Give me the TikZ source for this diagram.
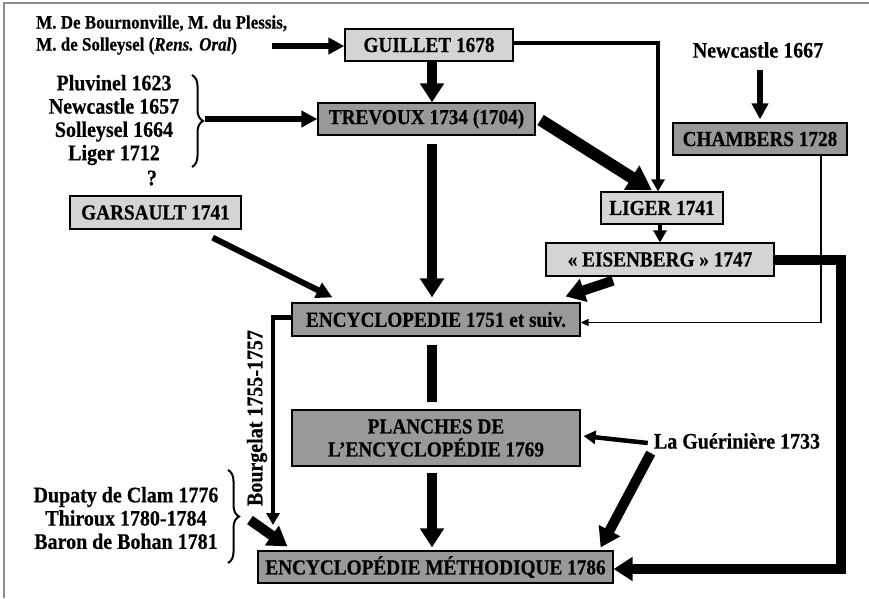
\documentclass[tikz,border=0pt]{standalone}
\usepackage{fontspec}
\setmainfont{Liberation Serif}[FakeStretch=0.9, BoldFeatures={FakeBold=0.5}, BoldItalicFeatures={FakeBold=0.5}]
\usepackage{tikz}
\usetikzlibrary{positioning, arrows.meta, calc, decorations.pathreplacing}

\definecolor{boxlight}{gray}{0.83}
\definecolor{boxdark}{gray}{0.60}
\definecolor{framegray}{gray}{0.55}

\tikzset{
	box/.style={draw=black, line width=1.2pt, inner sep=0pt, align=center, font=\bfseries\fontsize{21.4}{23}\selectfont},
	light box/.style={box, fill=boxlight},
	dark box/.style={box, fill=boxdark},
	free text/.style={inner sep=0pt, align=center, font=\bfseries\fontsize{22.2}{23.3}\selectfont},
	curly/.style={decorate, decoration={brace, amplitude=11pt}, line width=2pt},
	fat arrow/.style={line width=10pt, -{Triangle[length=19pt, width=23pt]}},
	fatter arrow/.style={line width=12pt, -{Triangle[length=24pt, width=27pt]}},
	mid arrow/.style={line width=6pt, -{Triangle[length=16pt, width=16pt]}},
	slim arrow/.style={line width=3.5pt, -{Triangle[length=12pt, width=13pt]}},
	hair arrow/.style={line width=1.5pt, -{Triangle[length=8pt, width=7pt]}}
}

\begin{document}
\begin{tikzpicture}[x=1pt, y=-1pt]
					\useasboundingbox (0,0) rectangle (869,598);
					\draw [draw=framegray, line width=1.5pt] (4,598) -- (4,3) -- (869,3);

					% the dictionaries
					\node[light box, minimum width=168pt, minimum height=32pt] (guillet) at (429,45) {GUILLET 1678};
					\node[dark box, minimum width=217pt, minimum height=32pt] (trevoux) at (426.5,119) {TREVOUX 1734 (1704)};
					\node[dark box, minimum width=174pt, minimum height=32pt] (chambers) at (760,139) {CHAMBERS 1728};
					\node[light box, minimum width=171pt, minimum height=33pt] (garsault) at (155.5,212.5) {GARSAULT 1741};
					\node[light box, minimum width=122pt, minimum height=32pt] (liger) at (662,208) {LIGER 1741};
					\node[light box, minimum width=228pt, minimum height=33pt] (eisenberg) at (660,259.5) {«~EISENBERG~» 1747};
					\node[dark box, minimum width=288pt, minimum height=33pt] (encyc) at (436,319.5) {ENCYCLOPEDIE 1751 et suiv.};
					\node[dark box, minimum width=288pt, minimum height=56pt] (planches) at (436,438) {PLANCHES DE\\L’ENCYCLOPÉDIE 1769};
					\node[dark box, minimum width=355pt, minimum height=32pt] (methodique) at (435.5,567) {ENCYCLOPÉDIE MÉTHODIQUE 1786};

					% the authors
					\node[free text, anchor=west, align=left, font=\bfseries\fontsize{18.9}{22}\selectfont] (oral) at (36,35) {M. De Bournonville, M. du Plessis,\\M. de Solleysel (\textit{Rens. Oral})};
					\node[free text] (early) at (114,120) {Pluvinel 1623\\Newcastle 1657\\Solleysel 1664\\Liger 1712};
					\node[free text] (query) at (152,178) {?};
					\node[free text] (newcastle) at (758,50) {Newcastle 1667};
					\node[free text] (gueriniere) at (737,441) {La Guérinière 1733};
					\node[free text] (later) at (126,518) {Dupaty de Clam 1776\\Thiroux 1780-1784\\Baron de Bohan 1781};
					\node[free text, rotate=90] (bourgelat) at (257,418) {Bourgelat 1755-1757};

					\draw [curly] (192,75) -- (192,167);
					\draw [curly] (228,470) -- (228,563);

					\coordinate (early tip) at (205,119);
					\coordinate (later tip) at (240,517);
					\coordinate (oral end) at (272,46);
					\coordinate (spine) at (432,0);
					\coordinate (east rail) at (841,0);
					\coordinate (bourg end) at (273,525);

					\draw [mid arrow] (oral end) -- (guillet.west |- oral end);
					\draw [fat arrow] (guillet.south -| spine) -- (trevoux.north -| spine);
					\draw [mid arrow] (early tip) -- (trevoux.west);
					\draw [fat arrow, shorten <=8pt, shorten >=5pt] (trevoux.south -| spine) -- (encyc.north -| spine);
					\draw [fatter arrow] ([shift={(5,1)}]trevoux.east) -- ([shift={(-10,-1)}]liger.north);
					\draw [slim arrow] ([shift={(0,-2)}]guillet.east) -| ([shift={(-4,0)}]liger.north);
					\draw [mid arrow, shorten <=20pt, shorten >=3pt] (chambers.north |- newcastle) -- (chambers.north);
					\draw [hair arrow] ([shift={(61,0)}]chambers.south) |- ([shift={(0,3)}]encyc.east);
					\draw [slim arrow] (liger.south -| eisenberg.north) -- (eisenberg.north);
					\draw [fat arrow] ([shift={(-47,4)}]eisenberg.south) -- ([shift={(-15,-6)}]encyc.north east);
					\draw [fat arrow] (eisenberg.east) -- (eisenberg.east -| east rail) |- ([shift={(0,2)}]methodique.east);
					\draw [mid arrow] ([shift={(-29,8)}]garsault.south east) -- ([shift={(41,-5)}]encyc.north west);
					\draw [slim arrow, line width=4.5pt] ([shift={(0,-2)}]encyc.west) -| (bourg end);
					\draw [line width=10pt, shorten <=8pt, shorten >=7pt] (encyc.south -| spine) -- (planches.north -| spine);
					\draw [fat arrow, shorten <=6pt, shorten >=3pt] (planches.south -| spine) -- (methodique.north -| spine);
					\draw [slim arrow, line width=4.5pt] ([shift={(-6,2)}]gueriniere.west) -- ([shift={(3,-2)}]planches.east);
					\draw [fat arrow] ([shift={(-3,4)}]gueriniere.south west) -- ([shift={(-13,-3)}]methodique.north east);
					\draw [fat arrow] ([shift={(10,3)}]later tip) -- ([shift={(30,-4)}]methodique.north west);
				\end{tikzpicture}
\end{document}
